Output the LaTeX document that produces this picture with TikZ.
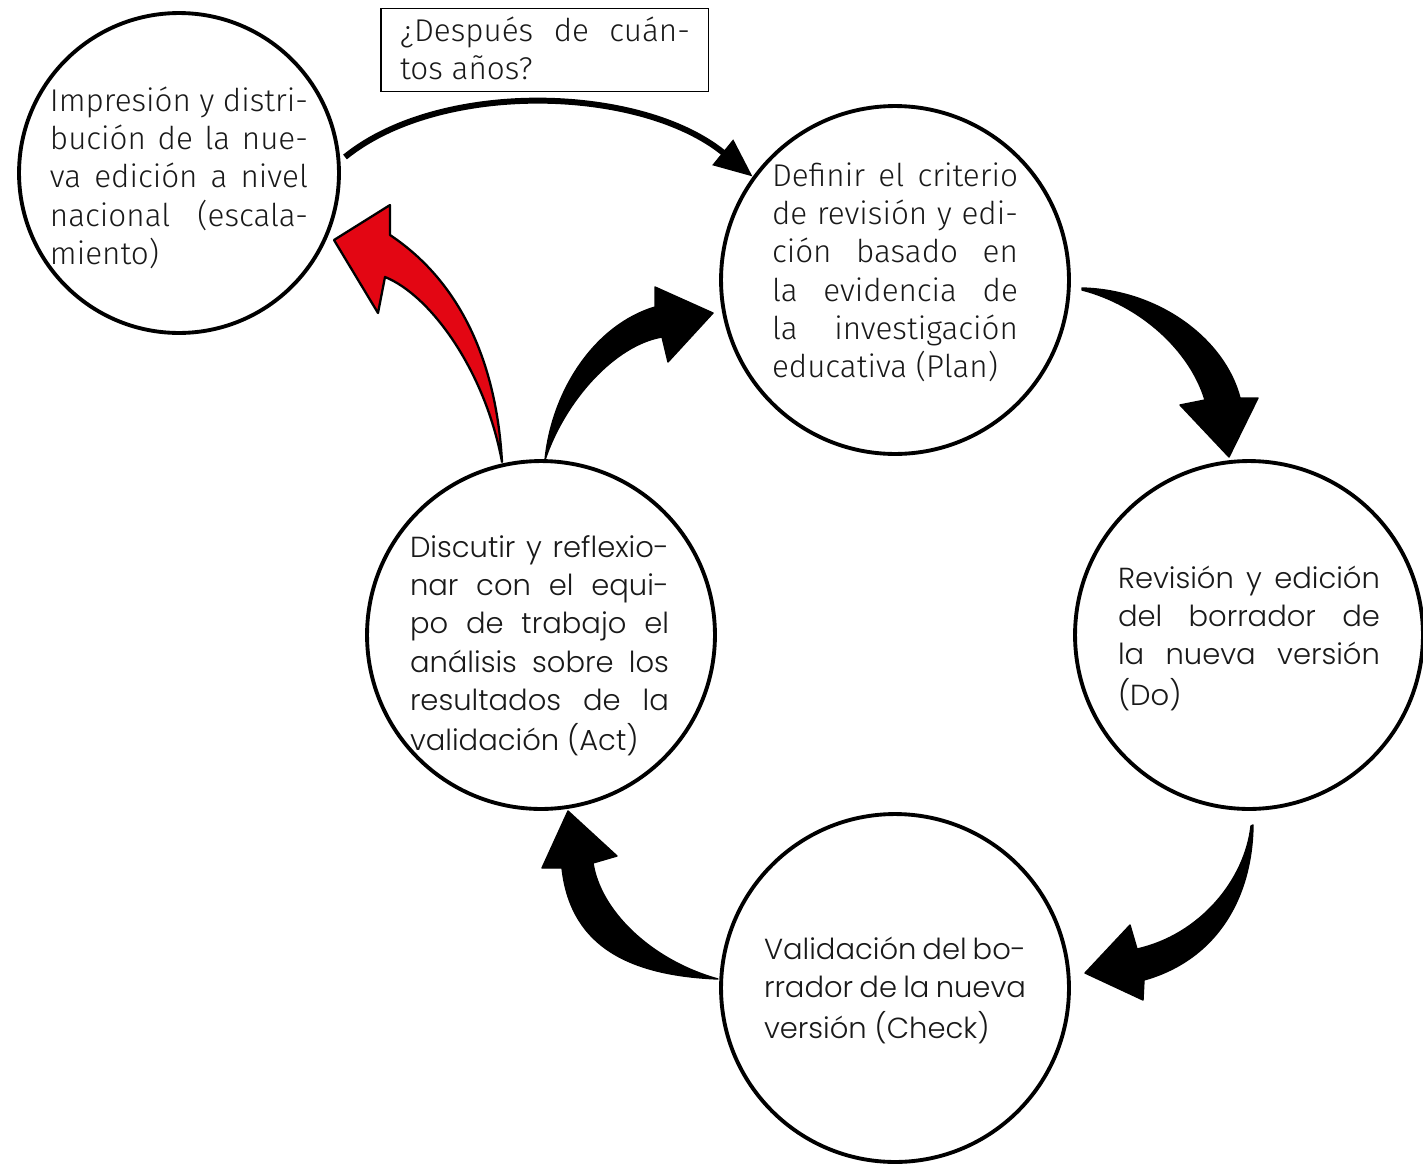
\documentclass[tikz,border=0pt]{standalone}
\usepackage{fontspec}
\setmainfont{Lato}
\IfFontExistsTF{Poppins Light}{\newfontfamily\geofont{Poppins Light}}{\newfontfamily\geofont{Poppins}}
\IfFontExistsTF{Fira Sans Light}{\newfontfamily\humfont{Fira Sans Light}}{\IfFontExistsTF{Lato Light}{\newfontfamily\humfont{Lato Light}}{\newfontfamily\humfont{Lato}}}
\usetikzlibrary{arrows.meta}
\definecolor{arrowred}{RGB}{227,6,19}
\definecolor{txtgray}{RGB}{25,25,25}
\newlength\LineW
\newcommand\jline[1]{\hbox to \LineW{\strut #1}}
\newcommand\lline[1]{\hbox to \LineW{\strut #1\hfil}}
\newcommand\tblock[2]{\setlength\LineW{#1}\vbox{#2}}
\begin{document}
\begin{tikzpicture}[x=0.02cm,y=-0.02cm,
  ring/.style={circle, draw, line width=2.2pt, minimum size=#1, inner sep=0pt},
  txtH/.style={anchor=north west, inner sep=0pt, outer sep=0pt, text=txtgray, font=\humfont\fontsize{17.9pt}{21.7pt}\selectfont},
  txtG/.style={anchor=north west, inner sep=0pt, outer sep=0pt, text=txtgray, font=\geofont\fontsize{16.5pt}{21.7pt}\selectfont},
  blk/.style={fill=black, draw=black, line width=0.8pt, line join=round},
  redblk/.style={fill=arrowred, draw=black, line width=1.3pt, line join=round},
  thin/.style={line width=3.4pt, -{Triangle[length=22pt,width=18pt]}}]
\useasboundingbox (0,0) rectangle (1423,1163);
\fill[white] (0,0) rectangle (1423,1163);

\node[ring=6.4cm] (tl) at (179,173) {};
\node[ring=6.96cm] (plan) at (895,280) {};
\node[ring=6.96cm] (do) at (1249,635) {};
\node[ring=6.96cm] (check) at (895,988) {};
\node[ring=6.96cm] (act) at (541,635) {};
\node[draw, line width=1.1pt, minimum width=6.56cm, minimum height=1.66cm, inner sep=0pt] (box) at (544.5,50) {};

\node[txtH] (boxtext) at (400,15) {\tblock{5.8cm}{%
 \jline{¿Después de cuán-}
 \lline{tos años?}}};
\node[txtH] (tltext) at (50,85) {\tblock{5.16cm}{%
 \jline{Impresión y distri-}
 \jline{bución de la nue-}
 \jline{va edición a nivel}
 \jline{nacional (escala-}
 \lline{miento)}}};
\node[txtH] (plantext) at (772,160) {\tblock{4.92cm}{%
 \jline{Definir el criterio}
 \jline{de revisión y edi-}
 \jline{ción basado en}
 \jline{la evidencia de}
 \jline{la investigación}
 \lline{educativa (Plan)}}};
\node[txtG] (dotext) at (1118,562) {\tblock{5.24cm}{%
 \jline{Revisión y edición}
 \jline{del borrador de}
 \jline{la nueva versión}
 \lline{(Do)}}};
\node[txtG] (checktext) at (764,933) {\tblock{5.24cm}{%
 \jline{Validación del bo-}
 \jline{rrador de la nueva}
 \lline{versión (Check)}}};
\node[txtG] (acttext) at (410,531) {\tblock{5.18cm}{%
 \jline{Discutir y reflexio-}
 \jline{nar con el equi-}
 \jline{po de trabajo el}
 \jline{análisis sobre los}
 \jline{resultados de la}
 \lline{validación (Act)}}};

\coordinate (tlout) at (345,157);
\draw[thin] (tlout) .. controls (440,80) and (640,85) .. (plan.144.5);

% Act -> Impresion (red)
\draw[redblk] (502,462) .. controls (497,370) and (465,285) .. (390,235) -- (390,205) -- (334,240) -- (378,313) -- (385,277) .. controls (430,295) and (485,370) .. (502,462) -- cycle;
% Act -> Plan
\draw[blk] (545,460) .. controls (552,390) and (595,325) .. (655,307) -- (655,287) -- (713,313) -- (668,362) -- (662,337) .. controls (615,345) and (565,400) .. (545,460) -- cycle;
% Plan -> Do
\draw[blk] (1082,288) .. controls (1160,290) and (1225,340) .. (1240,398) -- (1258,398) -- (1229,457) -- (1180,405) -- (1205,400) .. controls (1190,350) and (1140,305) .. (1082,290) -- cycle;
% Do -> Check
\draw[blk] (1253,825) .. controls (1252,900) and (1215,960) .. (1144,980) -- (1143,1000) -- (1085,973) -- (1130,925) -- (1137,949) .. controls (1200,935) and (1245,880) .. (1251,826) -- cycle;
% Check -> Act
\draw[blk] (718,979) .. controls (620,975) and (570,940) .. (562,868) -- (542,868) -- (568,811) -- (617,856) -- (593,863) .. controls (600,910) and (650,960) .. (718,979) -- cycle;
\end{tikzpicture}
\end{document}
